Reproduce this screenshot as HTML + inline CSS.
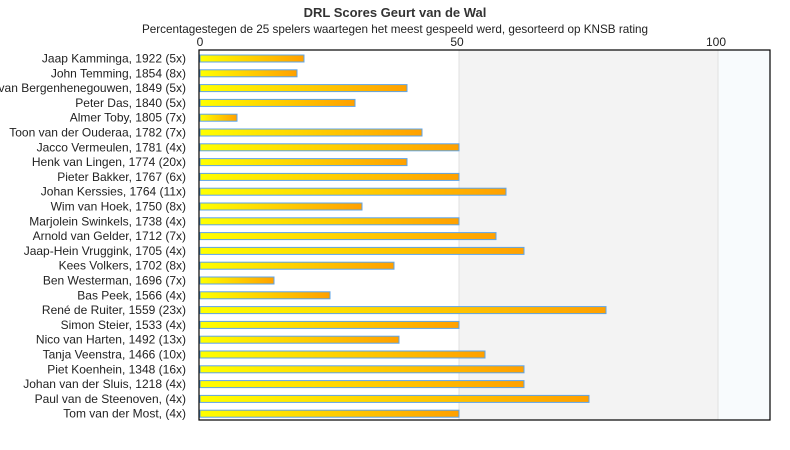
<!DOCTYPE html>
<html><head><style>body{margin:0;background:#fff}svg{display:block;font-family:"Liberation Sans","DejaVu Sans",sans-serif}</style></head><body>
<svg width="790" height="450" xmlns="http://www.w3.org/2000/svg">
<defs><linearGradient id="g" x1="0" x2="1" y1="0" y2="0"><stop offset="0" stop-color="#ffff00"/><stop offset="1" stop-color="#ffa000"/></linearGradient></defs>
<text x="395" y="17" text-anchor="middle" font-size="13" font-weight="bold" fill="#333">DRL Scores Geurt van de Wal</text>
<text x="395" y="33" text-anchor="middle" font-size="11.7" fill="#222">Percentagestegen de 25 spelers waartegen het meest gespeeld werd, gesorteerd op KNSB rating</text>
<rect x="459" y="50" width="259" height="370" fill="#f3f3f3"/>
<rect x="718" y="50" width="52" height="370" fill="#f8fbfd"/>
<line x1="459" y1="50" x2="459" y2="420" stroke="#e0e0e0"/>
<line x1="718" y1="50" x2="718" y2="420" stroke="#e0e0e0"/>
<text x="200" y="46" text-anchor="middle" font-size="12" fill="#222">0</text>
<text x="457" y="46" text-anchor="middle" font-size="12" fill="#222">50</text>
<text x="716" y="46" text-anchor="middle" font-size="12" fill="#222">100</text>
<g font-size="12" fill="#222" text-anchor="end" id="labels"></g>
<g id="bars"></g>
<rect x="199" y="50" width="571" height="370" fill="none" stroke="#000" stroke-width="1.2"/>
<script>
var d=[["Jaap Kamminga, 1922 (5x)",304],["John Temming, 1854 (8x)",297],["van Bergenhenegouwen, 1849 (5x)",407],["Peter Das, 1840 (5x)",355],["Almer Toby, 1805 (7x)",237],["Toon van der Ouderaa, 1782 (7x)",422],["Jacco Vermeulen, 1781 (4x)",459],["Henk van Lingen, 1774 (20x)",407],["Pieter Bakker, 1767 (6x)",459],["Johan Kerssies, 1764 (11x)",506],["Wim van Hoek, 1750 (8x)",362],["Marjolein Swinkels, 1738 (4x)",459],["Arnold van Gelder, 1712 (7x)",496],["Jaap-Hein Vruggink, 1705 (4x)",524],["Kees Volkers, 1702 (8x)",394],["Ben Westerman, 1696 (7x)",274],["Bas Peek, 1566 (4x)",330],["René de Ruiter, 1559 (23x)",606],["Simon Steier, 1533 (4x)",459],["Nico van Harten, 1492 (13x)",399],["Tanja Veenstra, 1466 (10x)",485],["Piet Koenhein, 1348 (16x)",524],["Johan van der Sluis, 1218 (4x)",524],["Paul van de Steenoven,  (4x)",589],["Tom van der Most,  (4x)",459]];
var L=document.getElementById("labels"),B=document.getElementById("bars"),ns="http://www.w3.org/2000/svg";
d.forEach(function(r,i){var y=58.5+i*14.8;
var t=document.createElementNS(ns,"text");t.setAttribute("x",186);t.setAttribute("y",y+4);t.textContent=r[0];t.setAttribute("xml:space","preserve");L.appendChild(t);
var b=document.createElementNS(ns,"rect");b.setAttribute("x",200);b.setAttribute("y",y-3.5);b.setAttribute("width",r[1]-200);b.setAttribute("height",7);b.setAttribute("fill","url(#g)");b.setAttribute("stroke","#5ea4e8");b.setAttribute("stroke-width","1");B.appendChild(b);});
</script>
</svg></body></html>
